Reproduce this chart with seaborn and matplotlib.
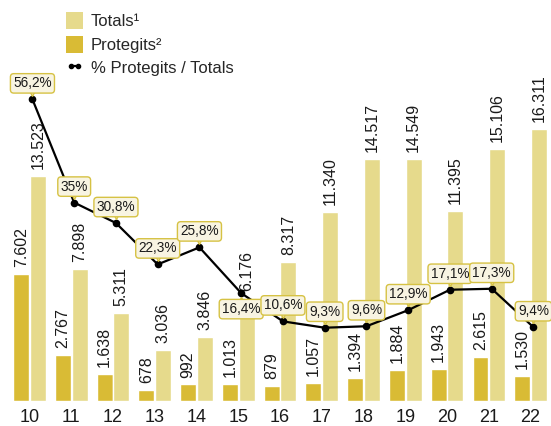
import matplotlib
matplotlib.use("Agg")
import matplotlib.pyplot as plt
from matplotlib.patches import Patch
from matplotlib.lines import Line2D
from matplotlib.transforms import offset_copy
import seaborn as sns
import pandas as pd
import numpy as np

# Data
years = ["10", "11", "12", "13", "14", "15", "16", "17", "18", "19", "20", "21", "22"]
totals = [13523, 7898, 5311, 3036, 3846, 6176, 8317, 11340, 14517, 14549, 11395, 15106, 16311]
protegits = [7602, 2767, 1638, 678, 992, 1013, 879, 1057, 1394, 1884, 1943, 2615, 1530]
pct = [56.2, 35.0, 30.8, 22.3, 25.8, 16.4, 10.6, 9.3, 9.6, 12.9, 17.1, 17.3, 9.4]
pct_below = ["15"]  # labels placed under their point

series_names = ["Protegits", "Totals"]
legend_labels = ["Totals\u00b9", "Protegits\u00b2", "% Protegits / Totals"]

C_TOT = "#e6da8c"
C_PROT = "#d9bb35"
C_BOX_FC = "#f8f4e2"
C_BOX_EC = "#d6c244"

sns.set_theme(style="white")
plt.rcParams["font.family"] = ["Liberation Sans", "DejaVu Sans"]

df = pd.DataFrame({
    "year": years * 2,
    "serie": ["Protegits"] * len(years) + ["Totals"] * len(years),
    "value": protegits + totals,
})

fig = plt.figure(figsize=(5.51, 4.26), dpi=100)
ax = fig.add_axes([0, 25 / 426, 1, 401 / 426])

sns.barplot(data=df, x="year", y="value", hue="serie", hue_order=series_names,
            palette=[C_PROT, C_TOT], order=years, width=0.8, gap=0.05,
            saturation=1, legend=False, ax=ax)

def fmt_thousands(v):
    return f"{int(v):,}".replace(",", ".")

for cont in ax.containers:
    ax.bar_label(cont, labels=[fmt_thousands(b.get_height()) for b in cont],
                 rotation=90, padding=5, fontsize=11.5, color="#1a1a1a")

ax.set_xlim(-0.707, 12.49)
ax.set_ylim(0, 24070)
ax.set_xlabel("")
ax.set_ylabel("")
ax.set_yticks([])
ax.tick_params(axis="x", length=0, pad=5.5, labelsize=13, labelcolor="#1a1a1a")
for s in ax.spines.values():
    s.set_visible(False)

# Percentage line on its own scale
ax2 = ax.twinx()
xpos = np.arange(len(years)) + 0.07
sns.lineplot(x=xpos, y=pct, ax=ax2, color="black", linewidth=1.6,
             marker="o", markersize=5.5, markeredgewidth=0)
ax2.set_ylim(-5.75, 76.6)
ax2.set_yticks([])
ax2.set_ylabel("")
for s in ax2.spines.values():
    s.set_visible(False)

def fmt_pct(v):
    s = f"{v:.1f}".replace(".", ",")
    if s.endswith(",0"):
        s = s[:-2]
    return s + "%"

# Callout boxes with a small pointer toward each point
for x, y, v, yr in zip(xpos, pct, pct, years):
    sign = -1 if yr in pct_below else 1
    dy = 11.5 * sign
    ax2.annotate(fmt_pct(v), (x, y), xytext=(0, dy), textcoords="offset points",
                 ha="center", va="center", fontsize=9.8, color="#1a1a1a", zorder=5,
                 bbox=dict(boxstyle="round,pad=0.2,rounding_size=0.25",
                           fc=C_BOX_FC, ec=C_BOX_EC, lw=1))
    tr = offset_copy(ax2.transData, fig=fig, x=0, y=5.6 * sign, units="points")
    ax2.plot([x], [y], transform=tr, marker="v" if sign > 0 else "^", markersize=6,
             mfc=C_BOX_FC, mec=C_BOX_EC, mew=1, linestyle="none", zorder=4)

handles = [
    Patch(facecolor=C_TOT, edgecolor="none"),
    Patch(facecolor=C_PROT, edgecolor="none"),
    Line2D([], [], color="black", linewidth=1.6, marker="o", markersize=3),
]
fig.legend(handles, legend_labels, loc="upper left", bbox_to_anchor=(66 / 551, 1 - 12 / 426),
           frameon=False, fontsize=12, numpoints=2, handlelength=1.0, handleheight=1.2,
           handletextpad=0.5, labelspacing=0.38, borderaxespad=0, borderpad=0)

fig.savefig("out.png", dpi=100)
